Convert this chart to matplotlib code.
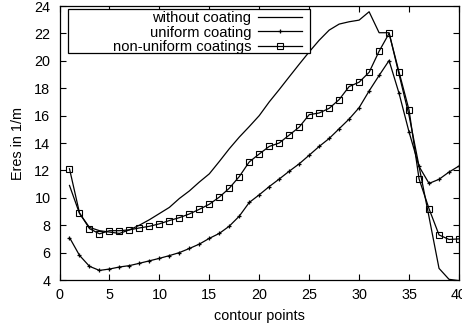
import numpy as np
import matplotlib
matplotlib.use('Agg')
import matplotlib.pyplot as plt
from matplotlib.patches import Rectangle

plt.rcParams['font.family'] = ['Liberation Sans', 'DejaVu Sans']
plt.rcParams['font.size'] = 10.4

# contour point index and residual values (1/m) for each case
points = np.arange(1, 41)

without_coating = [10.9, 8.86, 7.84, 7.6, 7.5, 7.4, 7.66, 8.0, 8.4, 8.85,
                   9.3, 9.95, 10.5, 11.15, 11.75, 12.65, 13.58, 14.43, 15.2, 16.0,
                   17.0, 17.9, 18.83, 19.75, 20.65, 21.5, 22.24, 22.68, 22.85, 22.97,
                   23.58, 22.05, 22.05, 19.0, 16.0, 12.3, 8.6, 4.85, 4.05, 3.95]

uniform_coating = [7.1, 5.8, 5.0, 4.7, 4.8, 4.95, 5.05, 5.22, 5.4, 5.58,
                   5.78, 6.0, 6.3, 6.62, 7.04, 7.4, 7.93, 8.66, 9.66, 10.22,
                   10.82, 11.37, 11.94, 12.48, 13.11, 13.75, 14.33, 15.04, 15.75, 16.58,
                   17.8, 18.93, 20.02, 17.62, 14.8, 12.29, 11.05, 11.35, 11.88, 12.32]

nonuniform_coatings = [12.12, 8.9, 7.75, 7.37, 7.6, 7.6, 7.66, 7.8, 7.92, 8.1,
                       8.34, 8.55, 8.82, 9.16, 9.53, 10.05, 10.7, 11.55, 12.62, 13.2,
                       13.75, 14.0, 14.58, 15.16, 16.07, 16.19, 16.53, 17.17, 18.12, 18.44,
                       19.16, 20.7, 22.0, 19.17, 16.4, 11.38, 9.2, 7.29, 6.96, 7.0]

x_ticks = [0, 5, 10, 15, 20, 25, 30, 35, 40]
y_ticks = [4, 6, 8, 10, 12, 14, 16, 18, 20, 22, 24]

fig = plt.figure(figsize=(4.62, 3.30), dpi=100)
ax = fig.add_axes([0.1288, 0.1515, 0.8647, 0.8303])

lw = 0.9
ax.plot(points, without_coating, color='black', lw=lw, label='without coating')
ax.plot(points, uniform_coating, color='black', lw=lw, marker='+',
        markersize=3.5, markeredgewidth=0.9, label='uniform coating')
ax.plot(points, nonuniform_coatings, color='black', lw=lw, marker='s',
        markersize=4.5, markerfacecolor='none', markeredgewidth=0.8,
        label='non-uniform coatings')

ax.set_xlim(0, 40)
ax.set_ylim(4, 24)
ax.set_xticks(x_ticks)
ax.set_yticks(y_ticks)
ax.tick_params(direction='in', top=True, right=True, length=4.5, width=0.8,
               labelsize=10.4)
ax.tick_params(axis='y', pad=6.5)
ax.tick_params(axis='x', pad=6)
for s in ax.spines.values():
    s.set_linewidth(0.9)

ax.set_xlabel('contour points', fontsize=10.4, labelpad=5)
ax.set_ylabel('Eres in 1/m', fontsize=10.4, labelpad=7)

# gnuplot-style key: wide box, labels right-aligned, samples on the right
key_box = Rectangle((0.0213, 0.828), 0.6057, 0.161, transform=ax.transAxes,
                    facecolor='white', edgecolor='black', linewidth=0.9,
                    zorder=4.5)
ax.add_patch(key_box)
leg = ax.legend(loc='upper right', bbox_to_anchor=(0.607, 0.982),
                markerfirst=False, handlelength=3.0, handletextpad=0.45,
                labelspacing=0.04, borderpad=0.0, borderaxespad=0,
                frameon=False, fontsize=10.6)

fig.savefig('out.png', dpi=100)
